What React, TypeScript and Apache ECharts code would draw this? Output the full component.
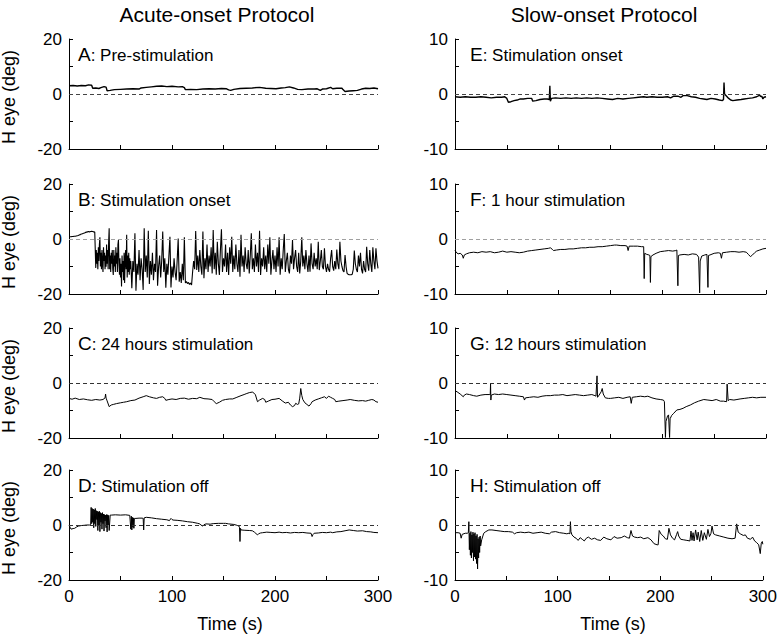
import React, { useEffect, useRef } from 'react';
import * as echarts from 'echarts';

const FONT = '"Liberation Sans", Arial, Helvetica, sans-serif';

const columnTitles = ['Acute-onset Protocol', 'Slow-onset Protocol'];
const panelLetters = ['A', 'B', 'C', 'D', 'E', 'F', 'G', 'H'];
const panelTexts = [
  'Pre-stimulation', 'Stimulation onset', '24 hours stimulation', 'Stimulation off',
  'Stimulation onset', '1 hour stimulation', '12 hours stimulation', 'Stimulation off',
];
const timeTickLabels = [0, 100, 200, 300];
const leftYTickLabels = [-20, 0, 20];
const rightYTickLabels = [-10, 0, 10];
const yName = 'H eye (deg)';
const xName = 'Time (s)';

// Panel A: pre-stimulation (t s, deg)
const traceA: [number, number][] = [
  [0, 3.0], [4, 3.1], [8, 2.9], [12, 3.1], [16, 3.0], [19, 3.3], [22, 3.2], [23, 2.1], [26, 2.2], [29, 2.0],
  [31, 2.3], [34, 2.7], [36, 2.5], [37, 1.2], [40, 1.3], [44, 1.6], [50, 1.7], [56, 1.8], [62, 1.9], [68, 1.8],
  [70, 2.2], [75, 2.4], [80, 2.6], [85, 2.8], [90, 2.9], [95, 2.7], [100, 2.8], [106, 2.6], [110, 2.7], [112, 2.3],
  [113, 1.6], [118, 1.7], [124, 1.6], [130, 1.8], [136, 1.9], [142, 1.8], [148, 2.0], [153, 1.9], [155, 1.5], [157, 1.3],
  [160, 1.7], [166, 2.0], [172, 2.1], [178, 2.2], [185, 2.4], [191, 2.1], [196, 2.0], [201, 1.9], [206, 2.2], [210, 2.3],
  [214, 2.6], [218, 2.2], [222, 1.7], [226, 1.6], [232, 1.8], [238, 1.8], [241, 1.9], [244, 1.3], [246, 1.8], [250, 1.9],
  [254, 2.4], [256, 1.9], [260, 2.1], [265, 2.1], [266, 1.6], [268, 0.9], [272, 1.1], [276, 1.2], [280, 1.3], [284, 1.8],
  [288, 2.1], [292, 2.0], [296, 2.2], [300, 1.9],
];

// Panel B: stimulation onset
// before onset, one sample per second, t = 0..25
const traceBPre: number[] = [
  0.8, 0.8, 0.8, 0.9, 0.9, 1.0, 1.0, 1.1, 1.2, 1.3, 1.5, 1.6, 1.8, 1.9, 2.1, 2.2, 2.4, 2.5, 2.6, 2.7, 2.6, 2.7, 2.8, 2.7, 2.6, 2.5,
];
// dense burst, one sample per half second, t = 26..60
const traceBBurst: number[] = [
  -10.5, -4, -9, -5, -11, -3, -8, -2, 0.6, -10, -5, -11, -4, -9, -12, -3, -8, -5, -11, -6,
  -10.1, -2, -9, -4, -11, -1, 3.9, -11, -6, -12, -5, -9, -4, -11, -13.1, -4, -10, -6, -12, -3,
  -9, -5, -12, -2, -0.4, -9, -13, -7, -14, -9, -17.3, -6, -12, -8, -15, -5, -16, -7, -4, -11,
  1.5, -14, -6, -12, -5, -13, -7, -11, -8,
];
// nystagmus, one sample per second, t = 61..300
const traceBMain: number[] = [
  -17.9, -8, -12, 2.1, -18.8, -9, -13, -4, -15, -7, -11, -18.5, 3.9, -12, -6, -14, 3.0, -16.4, -8, -13, -5, -15, -9, -12, 3.3, -17, -10, -6, -14, -8,
  2.7, -12, -7, -17.7, -9, -13, -6, 0.8, -17.6, -10, -14, -7, -12, -15, -8, 0.2, -15.5, -12, -16, -9, -15, 0.6, -16, -15.5, -16.2, -15.8, -16.5, -16, -16.7, -12,
  -8, -11, 2.9, -11.3, -6, -12, -4, -10, -13, 2.7, -14.3, -7, -11, -2, -12, -6, -10, -3, -12.5, 3.3, -11, -5, -13, -1, -9, -13.1, -4, 3.5, -12, -7,
  -10, -2, -12, -5, -13.1, -3, -9, 0.8, -12, -6, -11, -2, -9, -12, -4, -13.7, 1.5, -10, -6, -12, -3, -9, -11, -4, -12.5, -6, 2.1, -11, -7, -12,
  -2, -10, -5, -12, 3.0, -13.1, -7, -10, -3, -11, -6, -12, -2, -9, 0.6, -13, -8, -4, -11, -6, -12, -3, -10, 0.6, -13, -7, -11, -4, 1.8, -12,
  -8, -5, -11, -12.5, -6, -9, -0.4, -11, -7, -4, -10, -12, -5, -12.5, -8, 0.6, -10, -6, -11, -4, -9, -12, -6, -11.9, -1.6, -9, -11, -5, -10, -7,
  -11, -1.0, -11.3, -8, -4, -10, -11, -3.4, -10, -12,
  -9, -11, -11.9, -7, -4, -10, -11.5, -8, -11, -3.8, -9, -11, -1.0, -8, -10, -11.5, -12, -5.8, -10, -12.5, -12.8, -13, -13, -13, -12.8, -11, -4.2, -9, -11, -12,
  -6, -10, -5, -11, -12.5, -8, -11, -12, -2.8, -9, -11.5, -4, -9, -12, -3.0, -8, -11, -3.4, -8, -10.7,
];

// Panel C: 24 hours stimulation
const traceC: [number, number][] = [
  [0, -5.6], [3, -5.9], [6, -5.5], [10, -6.0], [14, -5.8], [18, -6.1], [22, -6.3], [26, -6.0], [30, -6.2], [33, -6.0],
  [35, -5.4], [35.5, -4.0], [36, -5.5], [37, -6.5], [39, -8.6], [41, -8.0], [43, -7.8], [46, -7.5], [50, -7.2], [53, -7.0],
  [56, -6.8], [60, -6.4], [64, -6.2], [68, -5.5], [72, -5.0], [75, -4.6], [78, -5.0], [82, -5.4], [85, -5.6], [88, -5.2],
  [91, -5.0], [93, -5.6], [94, -6.3], [97, -6.0], [100, -5.8], [104, -6.0], [108, -5.6], [112, -5.5], [116, -5.9], [120, -5.6],
  [124, -5.7], [127, -5.2], [131, -5.7], [135, -5.8], [139, -6.0], [141, -6.8], [143, -7.5], [146, -7.0], [149, -6.3], [152, -6.0],
  [156, -5.8], [159, -5.8], [163, -5.2], [167, -4.6], [170, -4.2], [172, -3.9], [175, -3.5], [178, -3.3], [180, -3.8], [181, -4.3],
  [183, -6.8], [185, -6.2], [188, -5.6], [190, -6.0], [191, -7.0], [194, -6.5], [197, -6.0], [200, -5.9], [204, -5.6], [207, -6.5],
  [210, -7.3], [213, -7.0], [215, -8.0], [217, -8.6], [219, -8.2], [220, -7.4], [222, -7.8], [223, -7.6], [224, -5.5], [225, -2.0],
  [226, -4.5], [227, -6.0], [229, -7.2], [231, -7.8], [233, -8.4], [235, -7.5], [236, -6.8], [239, -6.2], [242, -5.8], [245, -5.4],
  [248, -5.0], [250, -5.6], [252, -4.8], [254, -5.2], [256, -5.6], [258, -6.0], [259, -6.8], [262, -6.6], [266, -6.4], [270, -6.2],
  [273, -6.0], [277, -6.3], [281, -6.5], [285, -6.4], [288, -6.6], [291, -6.3], [294, -6.0], [296, -6.2], [298, -6.8], [300, -7.0],
];

// Panel D: stimulation off (acute)
const traceD: [number, number][] = [
  [0, 0], [1, -0.8], [2, -1.5], [4, -1.3], [5.5, -1.2], [7, -0.8], [9, -0.4], [12, -0.2], [15, -0.1], [17, 0], [20, 0], [21, 0.1],
  [21.5, 6.4], [22, 0.5], [22.5, 6.0], [23, 1.0], [23.5, 5.8], [24, -1.0], [24.5, 5.5], [25, 0.5], [25.5, 6.0], [26, -0.5],
  [26.5, 5.2], [27, 2.0], [27.5, 5.0], [28, -2.0], [28.5, 4.8], [29, 0], [29.5, 5.0], [30, -2.4], [30.5, 4.5], [31, 1.0],
  [31.5, 4.2], [32, -1.5], [32.5, 4.5], [33, 0.5], [33.5, 4.0], [34, -2.2], [34.5, 3.8], [35, 1.5], [35.5, 3.6], [36, -1.0],
  [36.5, 3.8], [37, -2.5], [37.5, 3.7], [38, 0], [38.5, 3.5], [39, -2.0], [40, 3.6], [41, 3.6], [45, 3.7], [50, 3.6],
  [55, 3.7], [59, 3.5], [60, -1.5], [60.5, 3.2], [61, -1.8], [61.5, 2.8], [62, -0.8], [62.5, 2.6], [63, -1.2], [63.5, 2.4],
  [65, 2.4], [68, 2.5], [71, 2.5], [72, 2.4], [72.5, -1.8], [73, 2.6], [75, 2.8], [80, 2.6], [85, 2.3], [90, 2.1],
  [95, 1.9], [97.5, 1.6], [99, 2.4], [100, 2.0], [101, 1.8], [105, 1.7], [110, 1.5], [115, 1.2], [120, 1.0], [125, 0.6],
  [127, 0.4], [128, 0.0], [130, -0.4], [131, 0.1], [133, 0.4], [137, 0.3], [140, 0.5], [145, 0.6], [150, 0.6], [152, 0.6],
  [155, 0.4], [160, 0.2], [163, -0.1], [165, -0.4], [165.5, -0.8], [166, -6.0], [166.5, -1.2], [167, -1.8], [170, -1.9], [175, -2.0],
  [178, -2.1], [180, -2.6], [183, -3.6], [184, -3.2], [186, -2.9], [188, -2.8], [192, -2.6], [196, -2.7], [200, -2.8], [204, -2.6],
  [207, -2.8], [211, -2.7], [215, -2.9], [219, -2.7], [223, -2.8], [227, -2.7], [231, -2.9], [235, -3.0], [236, -4.2], [237, -3.4],
  [238, -3.0], [242, -2.9], [246, -2.7], [250, -2.8], [254, -2.6], [256, -2.8], [260, -2.5], [264, -2.4], [268, -2.1], [272, -1.8],
  [276, -2.0], [280, -2.2], [285, -2.1], [289, -2.4], [293, -2.5], [296, -2.7], [300, -2.8],
];

// Panel E: stimulation onset (slow)
const traceE: [number, number][] = [
  [0, -0.5], [5, -0.6], [10, -0.5], [15, -0.6], [20, -0.6], [25, -0.5], [30, -0.6], [35, -0.7], [40, -0.6], [45, -0.6],
  [48, -0.5], [50, -0.8], [51.5, -1.5], [54, -1.4], [57, -1.2], [60, -1.1], [63, -0.9], [66, -0.9], [70, -0.8], [74, -0.8],
  [75, -1.3], [78, -1.2], [82, -1.0], [86, -0.9], [89, -0.9], [91, -1.0], [91.5, 1.5], [92, -1.3], [93, -0.8], [97, -0.7],
  [102, -0.8], [107, -0.7], [112, -0.8], [117, -0.7], [122, -0.8], [127, -0.7], [132, -0.8], [137, -0.7], [142, -0.8], [147, -0.9],
  [152, -1.0], [157, -0.8], [162, -0.9], [167, -0.8], [172, -0.7], [177, -0.6], [182, -0.5], [185, -0.6], [190, -0.5], [195, -0.6],
  [200, -0.6], [205, -0.5], [208, -0.7], [211, -0.4], [215, -0.4], [218, -0.6], [220, -0.3], [224, -0.3], [228, -0.5], [232, -0.6],
  [236, -0.8], [240, -0.9], [243, -1.0], [247, -0.8], [251, -0.9], [255, -1.1], [258, -1.2], [259, -1.0], [259.5, 2.1], [260, 0.0],
  [262, -0.4], [264, -0.8], [266, -1.1], [268, -1.2], [272, -1.1], [276, -1.0], [279, -0.9], [283, -0.8], [287, -0.7], [291, -0.5],
  [294, -0.2], [295, -0.5], [296, -0.4], [297, -0.9], [298, -0.6], [300, -0.5],
];

// Panel F: 1 hour stimulation
const traceF: [number, number][] = [
  [0, -2.0], [1, -2.4], [3, -2.7], [5, -2.6], [7, -2.9], [8, -3.5], [9, -2.9], [11, -2.7], [14, -2.5], [18, -2.4],
  [22, -2.5], [26, -2.3], [30, -2.4], [34, -2.3], [38, -2.5], [42, -2.4], [46, -2.2], [50, -2.4], [54, -2.3], [58, -2.4],
  [62, -2.5], [66, -2.4], [70, -2.2], [74, -2.1], [78, -2.0], [82, -1.9], [86, -1.8], [90, -1.7], [92, -1.6], [94, -1.9],
  [95, -2.1], [98, -2.0], [102, -1.9], [106, -1.9], [110, -1.8], [114, -1.8], [118, -1.7], [122, -1.6], [126, -1.6], [130, -1.5],
  [134, -1.5], [138, -1.4], [142, -1.4], [146, -1.3], [150, -1.2], [154, -1.1], [156, -1.1], [160, -1.2], [164, -1.2], [166, -1.3],
  [167, -2.1], [168, -1.3], [172, -1.3], [176, -1.3], [180, -1.4], [182, -1.4], [182.5, -7.2], [183, -2.6], [185, -2.8], [187, -2.9],
  [188, -3.0], [188.5, -7.9], [189, -3.2], [191, -2.9], [194, -2.6], [198, -2.3], [202, -2.2], [206, -2.1], [210, -2.2], [213, -2.1],
  [214, -2.0], [215, -8.5], [215.5, -3.0], [217, -2.9], [221, -2.8], [225, -2.9], [229, -2.7], [233, -2.8], [235, -3.3], [236, -9.8],
  [236.5, -4.0], [238, -3.1], [241, -2.9], [243, -2.8], [244, -8.8], [244.5, -3.0], [246, -2.9], [250, -2.6], [254, -2.5], [256, -2.6],
  [257, -3.5], [258, -2.5], [262, -2.4], [266, -2.3], [270, -2.3], [274, -2.4], [278, -2.3], [281, -2.4], [283, -2.8], [285, -3.2],
  [287, -2.9], [289, -2.5], [291, -2.2], [294, -2.0], [297, -1.8], [300, -1.7],
];

// Panel G: 12 hours stimulation
const traceG: [number, number][] = [
  [0, -1.4], [2, -1.6], [5, -2.0], [8, -2.5], [9, -2.2], [11, -2.0], [14, -2.1], [18, -2.3], [21, -2.4], [25, -2.2],
  [29, -2.1], [33, -2.1], [34, -2.1], [34.3, -0.1], [34.6, -3.1], [35, -2.2], [38, -2.0], [42, -2.1], [46, -2.0], [50, -2.1],
  [54, -2.2], [58, -2.3], [62, -2.4], [66, -2.5], [67, -3.1], [68, -2.7], [72, -2.6], [76, -2.5], [80, -2.6], [84, -2.4],
  [88, -2.3], [92, -2.3], [96, -2.2], [100, -2.2], [104, -2.1], [108, -2.3], [112, -2.2], [116, -2.1], [120, -2.2], [124, -2.3],
  [128, -2.2], [132, -2.1], [135, -2.3], [136, -2.4], [137, 1.3], [137.5, -2.6], [139, -2.2], [141, -1.6], [142, -1.0], [143, -2.0],
  [145, -2.7], [148, -2.8], [150, -2.8], [154, -2.7], [158, -2.6], [162, -2.8], [166, -2.6], [169, -2.5], [170, -3.7], [171, -2.6],
  [175, -2.5], [179, -2.4], [183, -2.5], [186, -2.4], [190, -2.7], [194, -2.9], [198, -3.0], [201, -3.1], [202, -3.4], [203, -9.9],
  [203.5, -7.0], [205, -6.0], [206, -5.8], [207, -9.9], [207.5, -6.5], [209, -5.9], [211, -5.5], [214, -4.9], [217, -4.8], [220, -4.6],
  [223, -4.3], [227, -4.0], [231, -3.6], [235, -3.3], [240, -3.0], [244, -3.1], [248, -3.2], [252, -3.0], [256, -3.3], [259, -3.3],
  [262, -3.4], [262.5, -0.2], [263.5, -3.2], [265, -3.0], [269, -3.1], [272, -3.0], [275, -2.9], [279, -2.8], [283, -2.7], [287, -2.6],
  [291, -2.7], [295, -2.6], [300, -2.6],
];

// Panel H: stimulation off (slow)
const traceH: [number, number][] = [
  [0, -1.4], [3, -1.4], [5, -1.5], [6, -2.4], [7, -1.7], [10, -1.5], [12, -1.5], [13, -1.4], [13.5, 0.6],
  [14, -4.5], [14.5, -1.5], [15, -5.5], [15.5, -1.2], [16, -6.0], [16.5, -1.8], [17, -5.0], [17.5, -1.3], [18, -6.5], [18.5, -1.6],
  [19, -5.8], [19.5, -1.4], [20, -6.2], [20.5, -2.0], [21, -7.0], [21.5, -1.7], [22, -8.0], [22.5, -2.5], [23, -6.0], [23.5, -2.2],
  [24, -5.0], [24.5, -2.0], [25, -3.8], [26, -2.7], [28, -1.5], [30, -1.2], [33, -0.9], [36, -0.9], [40, -1.0], [44, -1.1],
  [48, -1.2], [52, -1.2], [56, -1.3], [58, -1.6], [60, -1.4], [64, -1.3], [68, -1.4], [72, -1.3], [76, -1.5], [80, -1.4],
  [84, -1.3], [88, -1.5], [92, -1.6], [94, -1.3], [98, -1.2], [102, -1.4], [106, -1.5], [109, -1.6], [111, -1.5], [112, -1.6],
  [112.5, 0.6], [113, -1.2], [114, -1.8], [116, -2.2], [118, -2.4], [120, -2.8], [122, -2.3], [124, -2.6], [126, -2.9], [128, -2.4],
  [130, -2.2], [133, -2.6], [136, -2.4], [139, -2.7], [142, -2.8], [145, -2.2], [148, -2.5], [152, -2.7], [155, -2.1], [158, -2.4],
  [162, -2.3], [165, -2.0], [168, -2.3], [170, -2.4], [171.5, -1.0], [173, -2.0], [175, -2.2], [178, -2.3], [181, -2.2], [184, -2.5],
  [188, -2.3], [191, -2.7], [194, -3.4], [197, -3.6], [198, -3.6], [199, -1.0], [201, -1.7], [203, -2.0], [205, -2.5], [207, -2.6],
  [208.5, -0.6], [210, -1.8], [212, -2.4], [214, -2.7], [216, -1.7], [217, -1.2], [218, -2.0], [220, -2.6], [223, -2.7], [226, -2.8],
  [229, -2.9], [230, -1.1], [231, -2.8], [232, -1.4], [233, -2.9], [234.5, -0.9], [236, -2.7], [237, -1.3], [238.5, -3.0], [240, -1.0],
  [241.5, -2.8], [243, -1.4], [245, -2.6], [246.5, -0.8], [248, -2.1], [249.5, -1.5], [250.5, -0.2], [252, -1.6], [254, -1.8], [258, -2.0],
  [262, -2.2], [266, -2.4], [270, -2.5], [273, -2.4], [274.5, 0.2], [276, -1.3], [278, -1.6], [281, -1.9], [283, -1.8], [285, -2.4],
  [288, -2.6], [290, -2.2], [292, -2.9], [294, -3.2], [296, -3.6], [297.5, -5.2], [298.5, -3.3], [299.5, -3.0], [300, -3.5],
];

const traceB: [number, number][] = [
  ...traceBPre.map((v, i) => [i, v] as [number, number]),
  ...traceBBurst.map((v, i) => [26 + i * 0.5, v] as [number, number]),
  ...traceBMain.map((v, i) => [61 + i, v] as [number, number]),
];

const traces: [number, number][][] = [traceA, traceB, traceC, traceD, traceE, traceF, traceG, traceH];

// layout (pixels)
const colLeft = [69, 455];
const colWidth = [309, 311];
const rowTop = [39, 184, 328, 470];
const panelHeight = 110;
const zeroLineColors = ['#444', '#a0a0a0', '#333', '#333', '#444', '#a0a0a0', '#333', '#333'];
const traceWidths = [1.4, 1.1, 1, 1, 1.4, 1, 1, 1];

function buildOption() {
  const grid: any[] = [];
  const xAxis: any[] = [];
  const yAxis: any[] = [];
  const series: any[] = [];
  const graphic: any[] = [];

  for (let i = 0; i < 8; i++) {
    const col = i < 4 ? 0 : 1;
    const row = i % 4;
    const isBottom = row === 3;
    grid.push({ left: colLeft[col], top: rowTop[row], width: colWidth[col], height: panelHeight, containLabel: false });
    xAxis.push({
      type: 'value', gridIndex: i, min: 0, max: 300, interval: 50,
      axisLine: { show: true, onZero: false, lineStyle: { color: '#000', width: 1 } },
      axisTick: { show: true, inside: true, length: 4, lineStyle: { color: '#000', width: 1 } },
      axisLabel: {
        show: isBottom, margin: 8, color: '#000', fontSize: 17, fontFamily: FONT,
        formatter: (v: number) => (timeTickLabels.includes(v) ? String(v) : ''),
      },
      splitLine: { show: false },
    });
    const labels = col === 0 ? leftYTickLabels : rightYTickLabels;
    yAxis.push({
      type: 'value', gridIndex: i,
      min: col === 0 ? -20 : -10, max: col === 0 ? 20 : 10, interval: col === 0 ? 10 : 5,
      axisLine: { show: true, onZero: false, lineStyle: { color: '#000', width: 1 } },
      axisTick: { show: true, inside: true, length: 4, lineStyle: { color: '#000', width: 1 } },
      axisLabel: {
        margin: 7, color: '#000', fontSize: 17, fontFamily: FONT,
        formatter: (v: number) => (labels.includes(v) ? String(v) : ''),
      },
      splitLine: { show: false },
    });
    series.push({
      type: 'line', xAxisIndex: i, yAxisIndex: i, data: traces[i],
      symbol: 'none', showSymbol: false, silent: true,
      lineStyle: { color: '#000', width: traceWidths[i] },
      markLine: {
        silent: true, symbol: ['none', 'none'], label: { show: false },
        lineStyle: { type: [4, 3], color: zeroLineColors[i], width: 1 },
        data: [{ yAxis: 0 }],
      },
    });

    graphic.push({
      type: 'text',
      x: colLeft[col] + (col === 0 ? 9 : 15),
      y: rowTop[row] + 15.5,
      style: {
        text: `{a|${panelLetters[i]}}{b|: ${panelTexts[i]}}`,
        rich: {
          a: { fontSize: 19, fontFamily: FONT, fill: '#000', lineHeight: 19, verticalAlign: 'bottom' },
          b: { fontSize: 17, fontFamily: FONT, fill: '#000', lineHeight: 17, verticalAlign: 'bottom' },
        },
        align: 'left', textAlign: 'left', verticalAlign: 'middle', textVerticalAlign: 'middle',
      },
    });

    if (col === 0) {
      graphic.push({
        type: 'text', x: 9, y: rowTop[row] + panelHeight / 2 + 3, rotation: Math.PI / 2,
        style: {
          text: yName, fontSize: 18, fontFamily: FONT, fill: '#000',
          align: 'center', textAlign: 'center', verticalAlign: 'middle', textVerticalAlign: 'middle',
        },
      });
    }
  }

  const titleX = [217, 604];
  const timeX = [230, 613];
  for (let c = 0; c < 2; c++) {
    graphic.push({
      type: 'text', x: titleX[c], y: 14.5,
      style: {
        text: columnTitles[c], fontSize: 21, fontFamily: FONT, fill: '#000',
        align: 'center', textAlign: 'center', verticalAlign: 'middle', textVerticalAlign: 'middle',
      },
    });
    graphic.push({
      type: 'text', x: timeX[c], y: 624,
      style: {
        text: xName, fontSize: 18, fontFamily: FONT, fill: '#000',
        align: 'center', textAlign: 'center', verticalAlign: 'middle', textVerticalAlign: 'middle',
      },
    });
  }

  return {
    animation: false,
    backgroundColor: '#fff',
    grid, xAxis, yAxis, series, graphic,
  };
}

export default function App() {
  const ref = useRef<HTMLDivElement>(null);
  useEffect(() => {
    if (!ref.current) return;
    const chart = echarts.init(ref.current, null, { renderer: 'svg' });
    chart.setOption(buildOption() as any);
    return () => chart.dispose();
  }, []);
  return (
    <div
      ref={ref}
      style={{ position: 'fixed', left: 0, top: 0, width: 780, height: 635, background: '#fff' }}
    />
  );
}
